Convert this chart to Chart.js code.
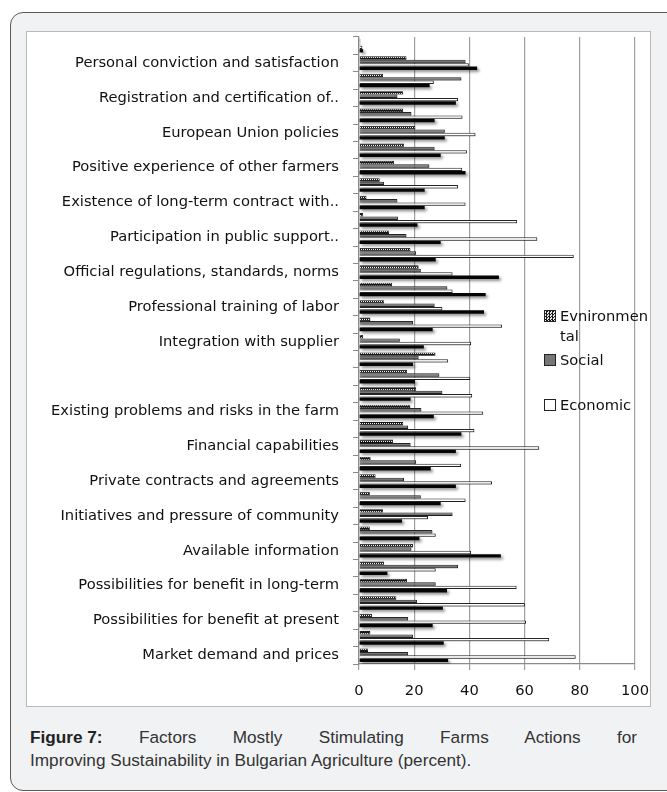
<!DOCTYPE html>
<html>
<head>
<meta charset="utf-8">
<script src="https://cdn.jsdelivr.net/npm/chart.js@4"></script>
<style>
  html, body { margin: 0; padding: 0; background: #fff; }
  body { width: 667px; height: 792px; position: relative; overflow: hidden; }
  #frame {
    position: absolute; left: 10px; top: 12px; width: 680px; height: 777px;
    background: #f1f2f4; border: 1.5px solid #5a5a5a; border-radius: 13px;
  }
  #plotBox {
    position: absolute; left: 27px; top: 32px; width: 623px; height: 674px;
    background: #fff; box-shadow: 0 0 0 1px #b9b9b9;
  }
  #plotBox canvas { position: absolute; left: 0; top: 0; }
  #legend { position: absolute; left: 0; top: 0; font: 14.7px "DejaVu Sans", sans-serif; color: #111; }
  .lg-item { position: absolute; line-height: 20px; }
  .lg-swatch { position: absolute; left: 0; top: 4px; width: 10px; height: 10px; border: 1px solid #222; box-sizing: content-box; }
  .lg-text { position: absolute; left: 16px; top: 0; width: 89px; word-break: break-all; }
  #caption {
    position: absolute; left: 30px; top: 726px; width: 607px;
    font: 17.2px "Liberation Sans", Arial, sans-serif; color: #333; line-height: 23px;
  }
  #caption .l1 { text-align: justify; text-align-last: justify; }
  #caption .fig { display: inline-block; font-weight: bold; color: #222; }
</style>
</head>
<body>
<div id="frame"></div>
<div id="plotBox"><canvas id="chart" width="623" height="674"></canvas></div>
<div id="legend"></div>
<div id="caption">
  <div class="l1"><span class="fig">Figure 7:</span> Factors Mostly Stimulating Farms Actions for</div>
  <div>Improving Sustainability in Bulgarian Agriculture (percent).</div>
</div>
<script>
// Factors, listed top to bottom; only every second factor carries a visible label
const categories = [
  '', 'Personal conviction and satisfaction',
  '', 'Registration and certification of..',
  '', 'European Union policies',
  '', 'Positive experience of other farmers',
  '', 'Existence of long-term contract with..',
  '', 'Participation in public support..',
  '', 'Official regulations, standards, norms',
  '', 'Professional training of labor',
  '', 'Integration with supplier',
  '', '',
  '', 'Existing problems and risks in the farm',
  '', 'Financial capabilities',
  '', 'Private contracts and agreements',
  '', 'Initiatives and pressure of community',
  '', 'Available information',
  '', 'Possibilities for benefit in long-term',
  '', 'Possibilities for benefit at present',
  '', 'Market demand and prices'
];

// Percent of farms per factor
const environmental = [0.5, 17.2, 8.7, 16.0, 16.0, 20.4, 16.3, 12.7, 7.5, 2.7, 1.5, 10.9, 18.6, 21.6, 12.0, 9.1, 4.1, 1.5,
  27.7, 17.4, 20.7, 18.6, 16.0, 12.3, 4.2, 6.0, 3.9, 8.7, 3.9, 19.6, 9.1, 17.4, 13.5, 4.7, 4.1, 3.3];
const social = [0.5, 38.6, 37.1, 13.9, 19.0, 31.1, 27.4, 25.5, 9.1, 13.9, 14.1, 17.2, 20.7, 22.4, 32.0, 27.4, 19.6, 14.8,
  21.6, 29.1, 30.2, 22.6, 17.8, 18.7, 20.7, 16.3, 22.4, 33.9, 26.6, 19.0, 35.9, 27.8, 21.0, 17.8, 19.6, 17.8];
const economic = [1.2, 39.8, 27.1, 35.9, 37.5, 42.2, 39.1, 37.4, 35.9, 38.6, 57.3, 64.6, 77.8, 33.9, 33.9, 30.2, 51.8, 40.6,
  32.3, 40.3, 41.0, 45.0, 41.8, 65.3, 37.0, 48.2, 38.6, 25.0, 27.8, 40.6, 27.8, 57.1, 60.1, 60.5, 68.9, 78.5];
const overall = [1.5, 42.8, 25.6, 35.1, 27.4, 31.1, 29.6, 38.6, 23.8, 23.8, 21.2, 29.6, 27.8, 50.7, 45.9, 45.3, 26.7, 23.5,
  19.6, 20.3, 18.7, 27.1, 37.1, 35.1, 26.0, 35.1, 29.6, 15.6, 21.9, 51.4, 10.3, 31.9, 30.4, 26.7, 30.7, 32.3];

const xTicks = [0, 20, 40, 60, 80, 100];
const seriesNames = ['Evnironmental', 'Social', 'Economic', 'Overall'];
const legendNames = ['Evnironmental', 'Social', 'Economic'];

const canvas = document.getElementById('chart');
const ctx = canvas.getContext('2d');

// dotted fill for the environmental bars
function dotPattern() {
  const p = document.createElement('canvas');
  p.width = 4; p.height = 4;
  const g = p.getContext('2d');
  g.fillStyle = '#151515'; g.fillRect(0, 0, 4, 4);
  g.fillStyle = '#f4f4f4';
  g.fillRect(0, 1, 1, 1); g.fillRect(2, 1, 1, 1);
  g.fillRect(1, 3, 1, 1); g.fillRect(3, 3, 1, 1);
  return ctx.createPattern(p, 'repeat');
}

const barShadow = {
  id: 'barShadow',
  beforeDatasetsDraw(chart) {
    const c = chart.ctx;
    c.save();
    c.shadowColor = 'rgba(0,0,0,0.45)';
    c.shadowBlur = 3;
    c.shadowOffsetX = 2;
    c.shadowOffsetY = 2;
  },
  afterDatasetsDraw(chart) { chart.ctx.restore(); }
};

const tickFont = { family: 'DejaVu Sans', size: 14.7 };

function noScalePadding(scale) {
  scale.paddingTop = 0; scale.paddingBottom = 0;
  scale.paddingLeft = 0; scale.paddingRight = 0;
}

const chart = new Chart(ctx, {
  type: 'bar',
  data: {
    labels: categories,
    datasets: [
      { label: seriesNames[0], data: environmental, backgroundColor: dotPattern(), borderColor: '#111', borderWidth: 0.8 },
      { label: seriesNames[1], data: social, backgroundColor: '#767676', borderColor: '#262626', borderWidth: 1 },
      { label: seriesNames[2], data: economic, backgroundColor: '#ffffff', borderColor: '#262626', borderWidth: 1 },
      { label: seriesNames[3], data: overall, backgroundColor: '#050505', borderColor: '#050505', borderWidth: 0 }
    ]
  },
  options: {
    indexAxis: 'y',
    responsive: false,
    animation: false,
    devicePixelRatio: 1,
    categoryPercentage: 0.78,
    barPercentage: 1.0,
    layout: { padding: { top: 5, right: 15, left: 0, bottom: 0 } },
    plugins: { legend: { display: false }, tooltip: { enabled: false } },
    scales: {
      x: {
        min: 0, max: 100,
        afterBuildTicks(scale) { scale.ticks = xTicks.map(v => ({ value: v })); },
        afterFit(scale) { scale.height = 42; noScalePadding(scale); },
        grid: { color: '#9e9e9e', lineWidth: 1.2, tickLength: 6, drawTicks: true },
        border: { color: '#8a8a8a', width: 1.2 },
        ticks: { font: tickFont, color: '#111', padding: 12, maxRotation: 0 }
      },
      y: {
        afterFit(scale) { scale.width = 332; noScalePadding(scale); },
        grid: { drawOnChartArea: false, offset: true, tickLength: 6, color: '#8a8a8a', lineWidth: 1 },
        border: { color: '#8a8a8a', width: 1.2 },
        ticks: { font: tickFont, color: '#111', padding: 14, autoSkip: false }
      }
    }
  },
  plugins: [barShadow]
});

// legend placed over the right side of the plot
const legendTops = [306, 350, 395];
const legendFills = [
  'repeating-conic-gradient(#1a1a1a 0 25%, #e8e8e8 0 50%) 0 0 / 3px 3px',
  '#767676',
  '#ffffff'
];
const legend = document.getElementById('legend');
legendNames.forEach((name, i) => {
  const item = document.createElement('div');
  item.className = 'lg-item';
  item.style.left = '544px';
  item.style.top = legendTops[i] + 'px';
  const sw = document.createElement('div');
  sw.className = 'lg-swatch';
  sw.style.background = legendFills[i];
  const tx = document.createElement('div');
  tx.className = 'lg-text';
  tx.textContent = name;
  item.appendChild(sw);
  item.appendChild(tx);
  legend.appendChild(item);
});
</script>
</body>
</html>
